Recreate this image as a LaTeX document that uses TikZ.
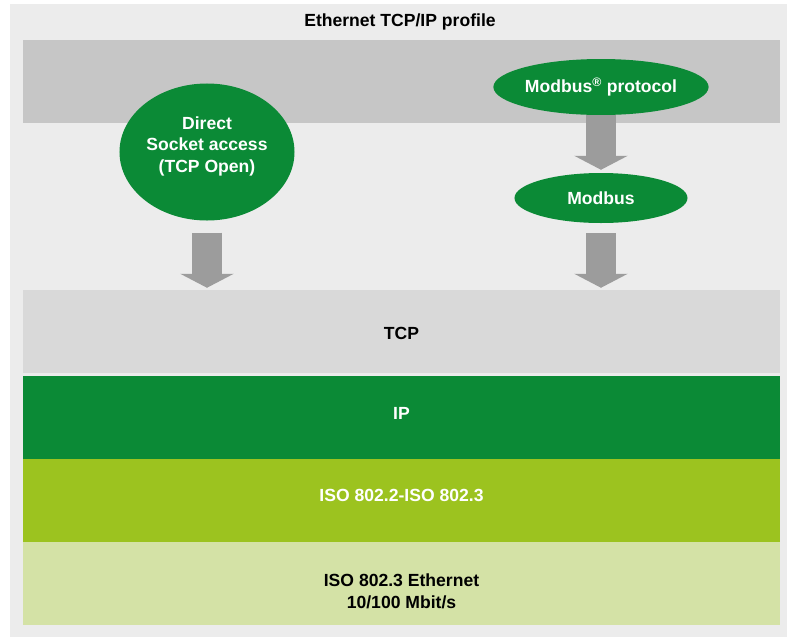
\documentclass[tikz,border=0pt]{standalone}
\usepackage{fontspec}
\setmainfont{Liberation Sans}
\usetikzlibrary{arrows.meta,shapes.geometric,positioning}
\definecolor{paper}{HTML}{ECECEC}
\definecolor{stone}{HTML}{C6C6C6}
\definecolor{mist}{HTML}{D9D9D9}
\definecolor{leaf}{HTML}{0B8A36}
\definecolor{lime}{HTML}{9CC31F}
\definecolor{pale}{HTML}{D4E2A6}
\definecolor{shaft}{HTML}{9C9C9C}
\tikzset{layer/.style={rectangle,minimum width=22.71cm,minimum height=2.49cm,inner sep=0pt,font=\bfseries\fontsize{15}{18.5}\selectfont,align=center},bubble/.style={ellipse,fill=leaf,text=white,inner sep=0pt,font=\bfseries\fontsize{15}{18.5}\selectfont,align=center},tag/.style={font=\bfseries\fontsize{15}{18.5}\selectfont,align=center,inner sep=0pt},downarrow/.style={draw=shaft,line width=.9cm,-{Triangle[width=1.59cm,length=.42cm]}}}
\begin{document}
\begin{tikzpicture}[x=.03cm,y=-.03cm]
\useasboundingbox (0,0) rectangle (798,639);
\fill[paper] (10,4) rectangle (787,637);
\node[tag] (title) at (400,22) {Ethernet TCP/IP profile};
% application band and the layer stack
\node[layer,fill=stone] (app) at (401.5,81.5) {};
\node[layer,fill=mist,label={[tag,yshift=-.06cm]center:TCP}] (tcp) at (401.5,331.5) {};
\node[layer,fill=leaf,label={[tag,text=white,yshift=.12cm]center:IP}] (ip) at (401.5,417.5) {};
\node[layer,fill=lime,label={[tag,text=white,yshift=.15cm]center:ISO 802.2-ISO 802.3}] (llc) at (401.5,500.5) {};
\node[layer,fill=pale,label={[tag,yshift=-.23cm]center:{ISO 802.3 Ethernet\\10/100 Mbit/s}}] (eth) at (401.5,583.5) {};
% services
\node[bubble,minimum width=5.25cm,minimum height=4.11cm,label={[tag,text=white,yshift=.17cm]center:{Direct\\Socket access\\(TCP Open)}}] (dsa) at (207,152) {};
\node[bubble,minimum width=5.19cm,minimum height=1.68cm] (mbp) at (601,87) {Modbus\textsuperscript{®} protocol};
\node[bubble,minimum width=5.19cm,minimum height=1.5cm] (mb) at (601,198) {Modbus};
\draw[downarrow,shorten <=.36cm,shorten >=.06cm] (dsa.south) -- (dsa.south |- tcp.north);
\draw[downarrow,shorten >=.09cm] (mbp.south) -- (mb.north);
\draw[downarrow,shorten <=.3cm,shorten >=.06cm] (mb.south) -- (mb.south |- tcp.north);
\end{tikzpicture}
\end{document}
